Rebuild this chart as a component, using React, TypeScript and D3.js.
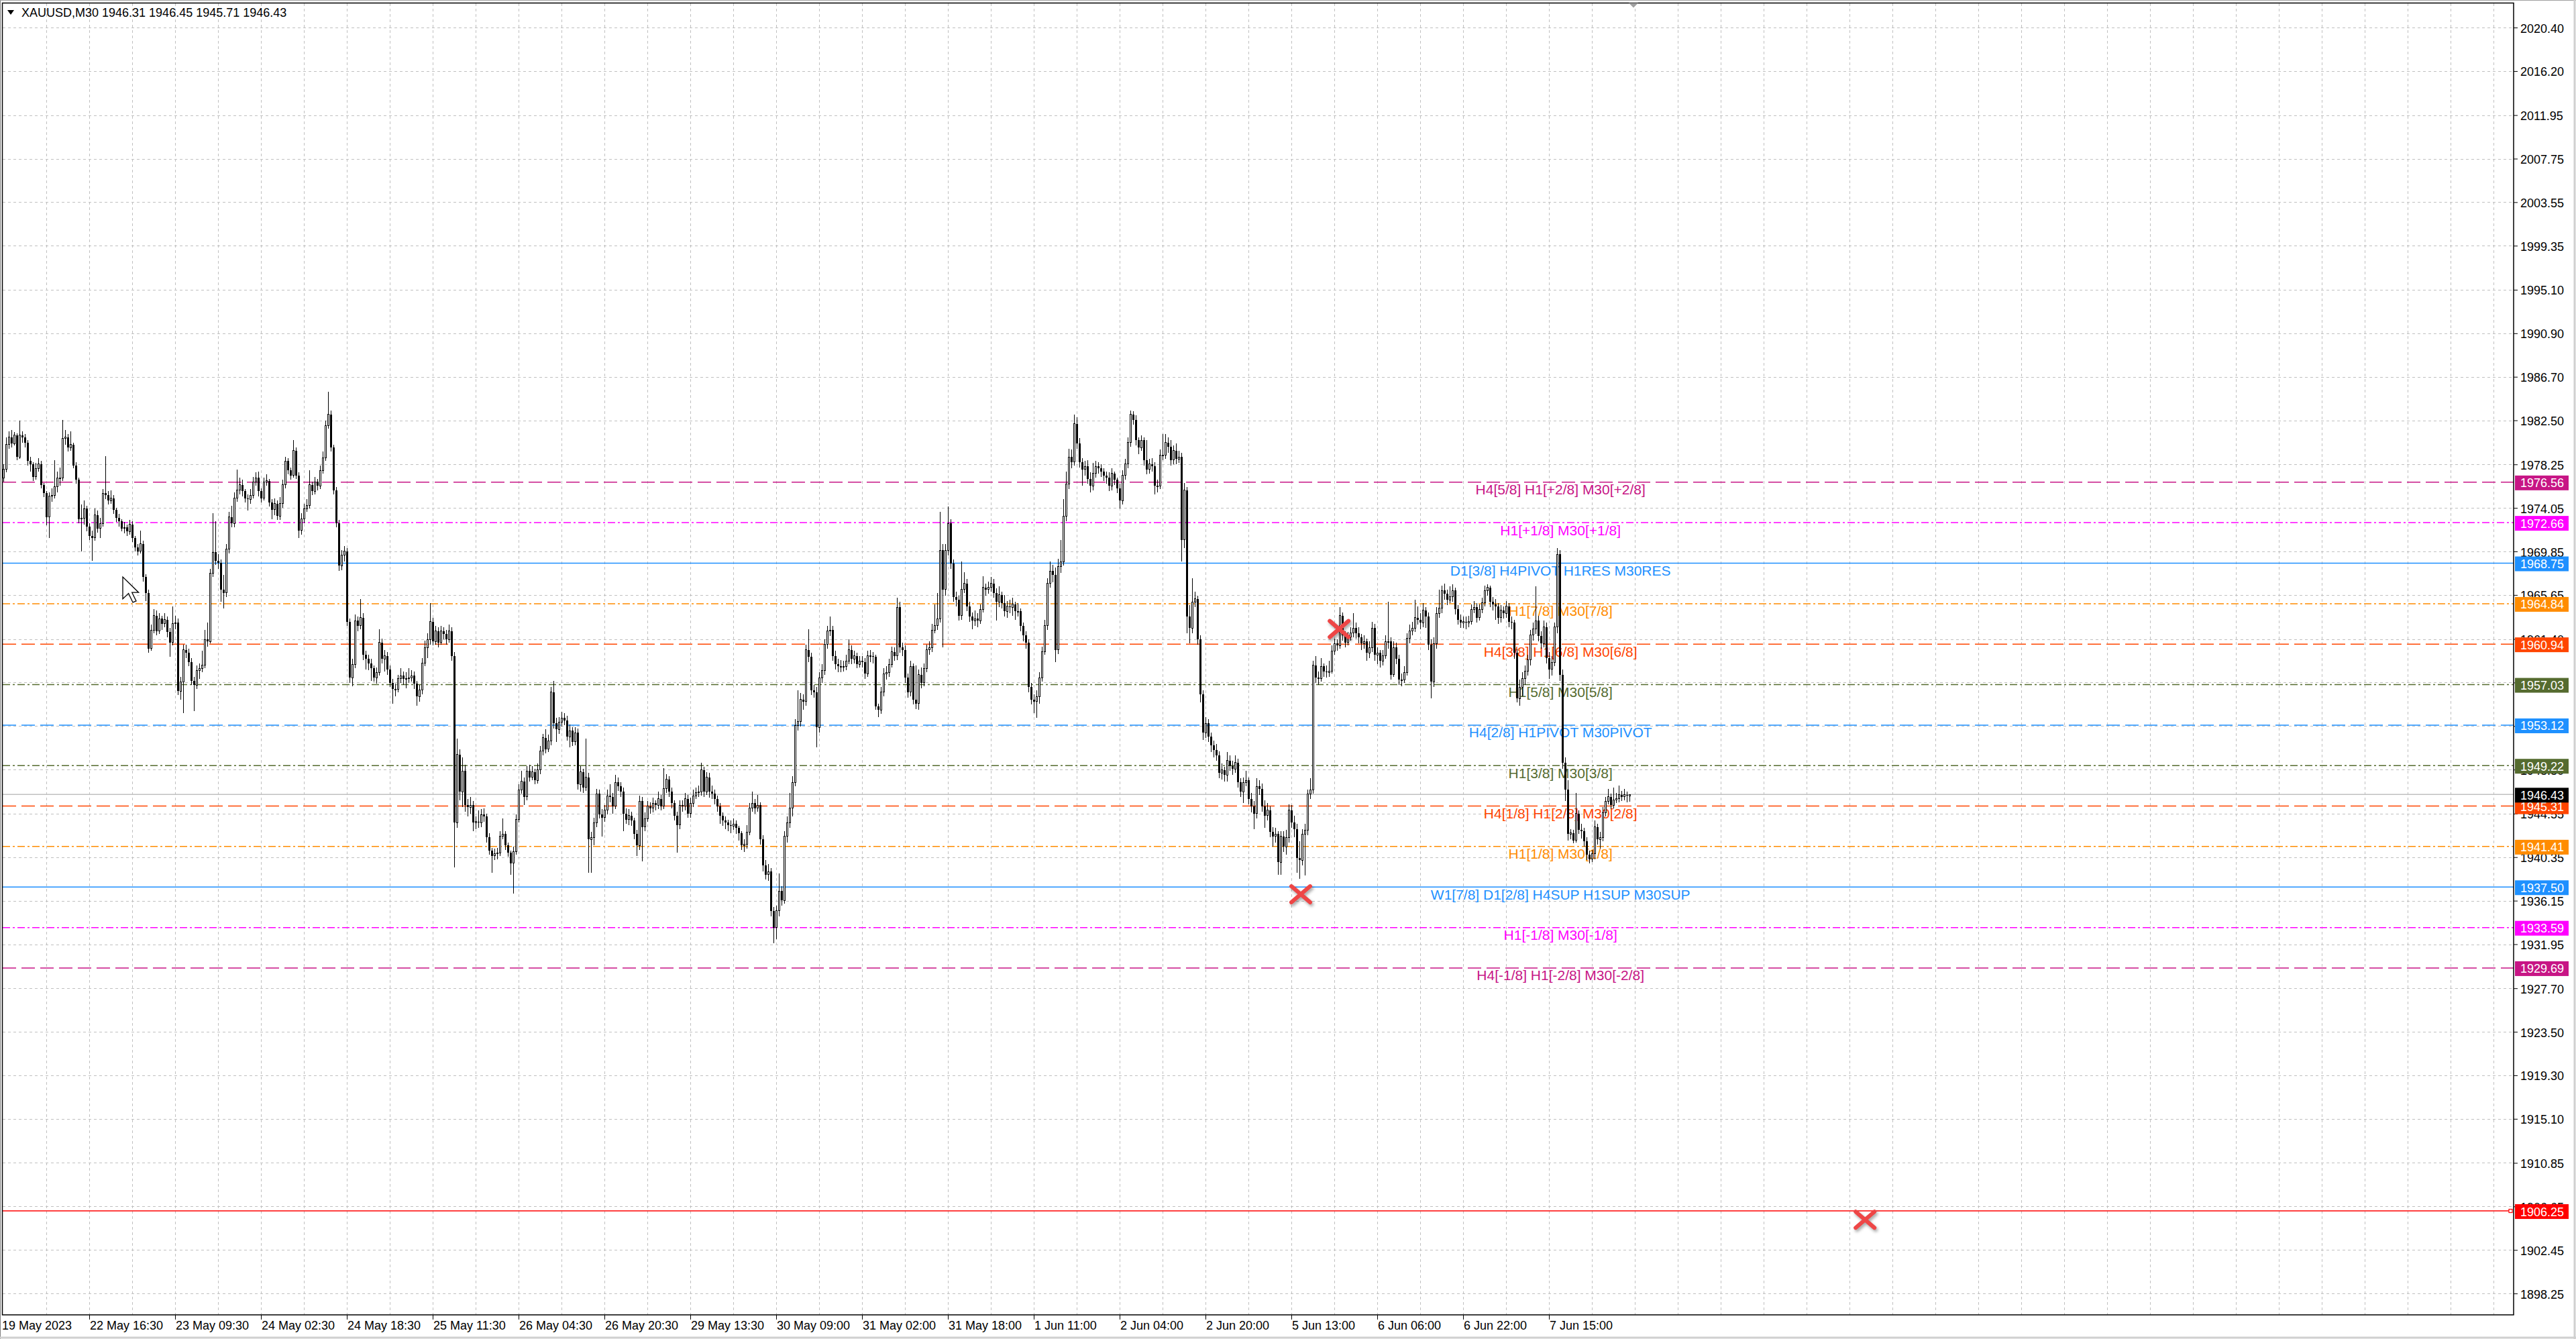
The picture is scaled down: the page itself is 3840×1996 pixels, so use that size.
import * as d3 from "d3";

// XAUUSD M30 bars. Each entry is [high, low, close];
// a bar opens at the previous close.
const FIRST_OPEN = 1977.0;

const bars19May = [
  [1978.3, 1976.6, 1977.8], [1980.9, 1977.5, 1980.2], [1981.5, 1979.8, 1980.9], [1981.6, 1979.9, 1980.3],
  [1981.4, 1980.1, 1981.1], [1981.3, 1978.7, 1979.0], [1982.5, 1978.8, 1981.1], [1981.5, 1980.4, 1980.9],
  [1981.2, 1979.9, 1980.4], [1980.6, 1978.2, 1978.6], [1979.0, 1977.6, 1978.3], [1978.5, 1976.7, 1977.1],
  [1978.4, 1976.8, 1977.9], [1978.9, 1977.6, 1978.3], [1978.6, 1976.0, 1976.3], [1976.5, 1975.1, 1975.5],
  [1975.7, 1972.4, 1973.2], [1975.6, 1971.2, 1975.2], [1976.0, 1974.7, 1975.3], [1978.7, 1975.0, 1976.1],
  [1977.6, 1975.6, 1977.0], [1978.0, 1976.2, 1977.0], [1982.6, 1976.7, 1980.8], [1981.6, 1980.2, 1980.9],
  [1981.2, 1979.5, 1979.9], [1981.5, 1979.6, 1980.2], [1980.4, 1977.9, 1978.2], [1978.5, 1976.4, 1976.8],
  [1977.0, 1972.6, 1973.0], [1974.4, 1969.9, 1973.1], [1974.8, 1972.5, 1974.0], [1974.3, 1971.8, 1972.3],
];
const bars22May = [
  [1972.6, 1971.0, 1971.4], [1971.9, 1969.0, 1971.2], [1974.0, 1970.9, 1973.4], [1973.8, 1971.7, 1972.1],
  [1973.1, 1971.2, 1972.6], [1975.9, 1972.3, 1975.5], [1979.1, 1974.9, 1975.3], [1975.7, 1974.4, 1974.8],
  [1975.8, 1974.5, 1975.0], [1975.3, 1973.5, 1973.9], [1974.1, 1972.7, 1973.1], [1973.5, 1972.3, 1972.8],
  [1973.0, 1971.8, 1972.1], [1972.7, 1971.6, 1972.2], [1972.5, 1971.4, 1971.8], [1972.9, 1971.5, 1972.5],
  [1972.8, 1970.8, 1971.2], [1971.4, 1969.9, 1970.3], [1970.6, 1969.5, 1969.9], [1971.9, 1969.7, 1970.6],
  [1970.9, 1967.0, 1967.4], [1967.7, 1965.1, 1965.9], [1966.2, 1960.1, 1960.5], [1962.8, 1960.3, 1962.3],
  [1964.3, 1962.0, 1963.7], [1964.2, 1961.8, 1962.2], [1963.9, 1961.9, 1963.4], [1963.7, 1962.3, 1962.9],
  [1963.9, 1962.6, 1963.3], [1963.6, 1961.6, 1962.1], [1962.5, 1959.7, 1961.1], [1964.6, 1960.8, 1962.9],
];
const bars23May = [
  [1963.7, 1962.4, 1963.0], [1963.4, 1956.0, 1956.4], [1957.8, 1955.6, 1957.3], [1960.9, 1954.3, 1960.4],
  [1960.9, 1959.6, 1960.1], [1960.5, 1958.8, 1959.2], [1959.6, 1957.0, 1957.4], [1957.8, 1954.5, 1957.0],
  [1958.9, 1956.6, 1958.4], [1959.1, 1957.6, 1958.6], [1960.3, 1958.2, 1958.9], [1962.3, 1958.6, 1961.4],
  [1963.0, 1960.7, 1961.2], [1968.2, 1961.0, 1967.8], [1973.6, 1967.4, 1969.8], [1972.8, 1968.6, 1969.0],
  [1969.6, 1968.2, 1968.8], [1969.1, 1965.0, 1966.2], [1967.6, 1964.4, 1965.9], [1970.6, 1965.5, 1970.1],
  [1973.7, 1969.7, 1973.2], [1974.3, 1972.2, 1972.6], [1975.6, 1972.2, 1975.0], [1977.8, 1974.7, 1975.8],
  [1977.0, 1975.4, 1976.3], [1976.8, 1975.2, 1975.7], [1975.9, 1974.6, 1975.0], [1975.4, 1973.8, 1974.9],
  [1975.9, 1974.5, 1975.3], [1977.1, 1975.0, 1976.6], [1977.5, 1976.2, 1977.0], [1977.6, 1975.2, 1975.7],
];
const bars24MayA = [
  [1976.0, 1974.6, 1975.0], [1977.0, 1974.8, 1976.6], [1977.3, 1976.2, 1976.7], [1976.9, 1974.2, 1974.6],
  [1974.9, 1973.0, 1973.9], [1975.0, 1973.4, 1974.5], [1974.8, 1972.9, 1973.3], [1975.1, 1972.9, 1974.5],
  [1976.8, 1974.1, 1976.3], [1979.0, 1976.0, 1978.6], [1978.9, 1977.3, 1977.7], [1978.0, 1976.8, 1977.2],
  [1980.6, 1977.0, 1979.6], [1979.9, 1976.9, 1977.2], [1977.5, 1971.2, 1971.9], [1973.6, 1971.5, 1973.0],
  [1974.5, 1972.6, 1974.0], [1974.9, 1973.7, 1974.3], [1977.7, 1974.0, 1976.3], [1976.6, 1975.3, 1975.7],
  [1977.1, 1975.4, 1976.6], [1976.9, 1975.8, 1976.2], [1978.2, 1975.9, 1977.7], [1979.5, 1977.4, 1978.9],
  [1982.5, 1978.6, 1982.0], [1985.3, 1981.7, 1983.1], [1983.5, 1979.5, 1979.9], [1980.2, 1975.4, 1975.8],
  [1976.1, 1972.2, 1972.6], [1972.9, 1968.0, 1968.5], [1970.0, 1968.1, 1969.5], [1970.4, 1968.9, 1969.9],
];
const bars24MayB = [
  [1970.2, 1962.7, 1963.1], [1963.4, 1957.2, 1957.7], [1959.5, 1956.9, 1959.0], [1963.8, 1958.6, 1963.2],
  [1963.6, 1962.2, 1962.7], [1965.3, 1962.4, 1963.5], [1963.9, 1959.4, 1959.9], [1960.3, 1958.5, 1959.5],
  [1959.9, 1958.4, 1959.1], [1959.5, 1957.4, 1958.6], [1958.9, 1957.3, 1957.7], [1958.7, 1957.1, 1958.2],
  [1962.4, 1957.9, 1961.1], [1961.5, 1959.1, 1959.5], [1960.4, 1958.3, 1959.8], [1960.2, 1958.0, 1958.5],
  [1958.9, 1956.8, 1957.2], [1957.6, 1955.2, 1956.6], [1957.1, 1955.9, 1956.6], [1958.0, 1956.3, 1957.6],
  [1958.6, 1957.2, 1957.9], [1958.3, 1957.0, 1957.6], [1958.2, 1956.7, 1957.6], [1958.6, 1957.2, 1957.7],
  [1958.4, 1957.3, 1957.9], [1958.3, 1956.6, 1957.1], [1957.4, 1955.0, 1955.9], [1957.0, 1955.4, 1956.5],
  [1959.6, 1956.1, 1959.1], [1961.3, 1958.8, 1960.6], [1962.0, 1959.6, 1961.4], [1964.9, 1960.9, 1963.1],
];
const bars25May = [
  [1963.5, 1960.8, 1961.2], [1962.7, 1960.9, 1962.2], [1962.6, 1960.6, 1961.1], [1962.7, 1960.9, 1962.2],
  [1962.6, 1961.4, 1961.9], [1962.3, 1960.9, 1961.4], [1962.8, 1961.1, 1962.2], [1962.6, 1959.3, 1959.8],
  [1960.2, 1939.4, 1943.7], [1951.8, 1943.2, 1950.3], [1950.8, 1945.9, 1946.7], [1950.0, 1945.2, 1948.7],
  [1949.3, 1944.8, 1945.4], [1946.0, 1944.3, 1945.2], [1946.2, 1944.6, 1945.4], [1945.8, 1942.9, 1943.7],
  [1944.3, 1943.1, 1943.8], [1944.9, 1943.2, 1943.7], [1945.0, 1943.3, 1944.5], [1945.1, 1943.8, 1944.3],
  [1944.6, 1941.8, 1942.3], [1942.7, 1940.6, 1941.0], [1941.3, 1938.9, 1940.5], [1941.2, 1940.1, 1940.7],
  [1941.3, 1940.2, 1940.8], [1942.9, 1940.5, 1942.4], [1944.1, 1942.1, 1942.6], [1942.9, 1941.1, 1941.5],
  [1941.8, 1940.4, 1940.8], [1941.0, 1938.7, 1939.8], [1941.4, 1936.9, 1940.9], [1944.5, 1940.6, 1944.0],
];
const bars26MayA = [
  [1947.4, 1943.7, 1946.9], [1948.7, 1946.5, 1947.7], [1948.1, 1945.4, 1946.2], [1949.2, 1945.9, 1948.7],
  [1949.3, 1947.7, 1948.1], [1949.2, 1947.8, 1948.6], [1948.9, 1947.4, 1947.8], [1949.4, 1947.5, 1948.8],
  [1951.1, 1948.4, 1950.6], [1952.3, 1950.2, 1951.9], [1952.7, 1950.4, 1950.8], [1952.2, 1950.5, 1951.6],
  [1956.8, 1951.2, 1956.3], [1957.4, 1952.8, 1953.3], [1953.8, 1951.5, 1952.7], [1953.9, 1952.3, 1953.4],
  [1954.4, 1953.0, 1953.8], [1954.3, 1953.1, 1953.6], [1954.0, 1951.6, 1952.0], [1953.2, 1951.0, 1952.6],
  [1952.9, 1951.1, 1951.5], [1952.9, 1951.2, 1952.4], [1952.8, 1946.9, 1947.4], [1949.2, 1946.7, 1948.6],
  [1948.9, 1946.6, 1947.1], [1951.8, 1946.8, 1948.1], [1948.5, 1938.9, 1942.1], [1942.8, 1938.9, 1942.3],
  [1944.2, 1941.5, 1943.7], [1947.0, 1943.3, 1946.5], [1946.9, 1944.1, 1944.5], [1945.0, 1942.4, 1944.2],
];
const bars26MayB = [
  [1945.4, 1943.8, 1944.9], [1946.9, 1944.5, 1946.3], [1947.4, 1945.7, 1946.2], [1946.6, 1944.6, 1945.3],
  [1948.3, 1945.0, 1947.6], [1948.1, 1946.8, 1947.2], [1947.6, 1946.2, 1946.7], [1947.1, 1942.9, 1944.6],
  [1945.1, 1943.6, 1944.0], [1945.0, 1943.5, 1944.4], [1944.8, 1943.4, 1943.9], [1944.2, 1942.1, 1942.6],
  [1943.0, 1940.5, 1941.5], [1946.3, 1941.1, 1945.8], [1946.2, 1940.0, 1943.3], [1944.7, 1942.9, 1944.1],
  [1945.8, 1943.8, 1945.3], [1945.7, 1944.6, 1945.1], [1946.1, 1944.7, 1945.6], [1945.9, 1944.9, 1945.4],
  [1946.7, 1945.0, 1946.0], [1946.4, 1944.9, 1945.3], [1949.0, 1945.0, 1947.0], [1948.4, 1946.6, 1947.9],
  [1948.2, 1946.2, 1946.7], [1947.1, 1945.1, 1945.6], [1945.9, 1943.9, 1944.4], [1944.8, 1940.8, 1943.5],
  [1945.9, 1943.1, 1945.4], [1945.9, 1944.8, 1945.3], [1946.6, 1944.9, 1946.0], [1946.4, 1944.2, 1944.6],
];
const bars29May = [
  [1946.1, 1944.2, 1945.6], [1946.9, 1945.2, 1946.3], [1947.1, 1946.0, 1946.6], [1947.3, 1946.2, 1946.7],
  [1949.5, 1946.3, 1948.8], [1949.1, 1946.2, 1946.7], [1948.6, 1946.4, 1948.1], [1948.5, 1946.1, 1946.7],
  [1947.3, 1946.0, 1946.5], [1946.9, 1945.5, 1946.0], [1946.3, 1944.8, 1945.3], [1945.6, 1943.6, 1944.4],
  [1944.7, 1943.4, 1943.9], [1944.3, 1943.1, 1943.7], [1944.0, 1942.9, 1943.5], [1943.9, 1942.7, 1943.4],
  [1944.1, 1943.0, 1943.6], [1943.9, 1942.6, 1943.2], [1943.4, 1942.0, 1942.7], [1942.9, 1941.1, 1941.5],
  [1942.1, 1940.9, 1941.6], [1943.5, 1941.2, 1942.8], [1945.6, 1942.5, 1945.1], [1946.7, 1944.8, 1945.6],
  [1946.0, 1944.6, 1945.1], [1946.4, 1944.8, 1945.4], [1945.7, 1941.6, 1942.1], [1942.5, 1939.0, 1939.6],
  [1940.1, 1938.2, 1938.7], [1939.7, 1938.1, 1939.0], [1939.3, 1934.7, 1935.2], [1935.6, 1932.1, 1933.6],
];
const bars30May = [
  [1935.7, 1932.5, 1935.2], [1938.8, 1934.7, 1937.1], [1937.6, 1935.7, 1936.2], [1942.9, 1935.9, 1942.4],
  [1944.3, 1941.8, 1943.7], [1946.6, 1943.2, 1945.1], [1948.2, 1944.3, 1947.6], [1953.7, 1947.2, 1953.1],
  [1956.5, 1952.6, 1953.5], [1956.2, 1953.0, 1955.6], [1956.1, 1954.6, 1955.4], [1960.9, 1955.0, 1960.4],
  [1962.4, 1959.2, 1959.7], [1960.1, 1956.0, 1956.5], [1957.0, 1955.8, 1956.3], [1956.8, 1951.0, 1952.9],
  [1958.2, 1952.4, 1957.7], [1959.0, 1957.2, 1958.4], [1961.4, 1958.0, 1960.9], [1962.7, 1960.5, 1962.2],
  [1963.6, 1961.7, 1962.3], [1962.7, 1959.3, 1959.8], [1960.3, 1958.5, 1959.0], [1959.5, 1958.2, 1958.8],
  [1959.4, 1958.2, 1958.8], [1959.3, 1958.3, 1958.8], [1959.9, 1958.4, 1959.3], [1961.4, 1959.0, 1960.4],
  [1960.8, 1959.0, 1959.5], [1960.3, 1959.1, 1959.8], [1960.1, 1958.6, 1959.0], [1959.8, 1958.7, 1959.3],
];
const bars31MayA = [
  [1959.8, 1958.7, 1959.2], [1959.6, 1957.6, 1958.1], [1960.3, 1957.8, 1959.8], [1960.4, 1959.2, 1959.8],
  [1960.2, 1959.1, 1959.7], [1959.9, 1954.6, 1954.9], [1955.2, 1953.9, 1954.6], [1956.8, 1954.2, 1956.3],
  [1958.6, 1955.9, 1958.1], [1958.8, 1957.5, 1958.2], [1959.5, 1957.8, 1959.0], [1960.7, 1958.7, 1960.2],
  [1960.6, 1959.3, 1959.8], [1965.4, 1959.4, 1964.5], [1965.0, 1960.1, 1960.6], [1961.1, 1959.8, 1960.4],
  [1960.8, 1957.2, 1957.7], [1958.1, 1955.8, 1956.3], [1959.3, 1955.9, 1958.8], [1959.1, 1955.1, 1955.6],
  [1958.9, 1954.7, 1955.2], [1958.5, 1954.6, 1958.0], [1958.7, 1956.7, 1957.2], [1959.1, 1956.9, 1958.6],
  [1960.9, 1958.2, 1960.4], [1961.2, 1959.9, 1960.6], [1962.9, 1960.2, 1962.3], [1964.8, 1962.0, 1962.7],
  [1965.9, 1962.3, 1963.4], [1973.7, 1963.0, 1970.0], [1970.6, 1960.6, 1966.2], [1970.6, 1965.6, 1970.0],
];
const bars31MayB = [
  [1974.2, 1969.5, 1972.6], [1973.0, 1968.2, 1968.7], [1969.1, 1965.0, 1965.5], [1966.0, 1964.6, 1965.2],
  [1965.6, 1963.2, 1963.7], [1968.9, 1963.3, 1966.2], [1967.9, 1965.9, 1966.8], [1967.2, 1964.1, 1964.6],
  [1965.0, 1963.1, 1963.6], [1964.0, 1962.4, 1963.2], [1964.2, 1962.7, 1963.4], [1963.9, 1962.6, 1963.2],
  [1964.8, 1962.9, 1964.3], [1967.5, 1964.0, 1966.4], [1966.8, 1965.6, 1966.2], [1967.0, 1965.8, 1966.4],
  [1967.4, 1966.0, 1966.8], [1967.2, 1965.4, 1965.9], [1966.3, 1963.2, 1965.0], [1966.5, 1964.5, 1965.7],
  [1966.0, 1964.4, 1964.9], [1965.7, 1963.6, 1964.1], [1965.1, 1963.5, 1964.6], [1965.2, 1963.9, 1964.5],
  [1965.4, 1963.7, 1964.8], [1965.0, 1963.3, 1964.1], [1964.9, 1963.6, 1964.1], [1964.4, 1962.2, 1962.7],
  [1963.0, 1961.2, 1961.8], [1962.2, 1960.5, 1961.1], [1961.4, 1956.3, 1956.8], [1957.2, 1955.1, 1955.6],
];
const bars1Jun = [
  [1956.1, 1954.3, 1955.4], [1956.5, 1953.8, 1955.9], [1958.2, 1955.2, 1957.7], [1960.7, 1957.3, 1960.2],
  [1963.3, 1959.9, 1962.7], [1967.3, 1962.3, 1966.8], [1968.9, 1966.4, 1968.0], [1968.6, 1966.9, 1967.6],
  [1968.3, 1959.2, 1960.4], [1969.2, 1960.0, 1968.4], [1971.0, 1967.8, 1968.9], [1974.9, 1968.5, 1973.3],
  [1977.6, 1972.8, 1976.4], [1979.8, 1975.9, 1979.0], [1979.7, 1977.9, 1978.5], [1983.1, 1978.2, 1982.2],
  [1982.8, 1979.8, 1980.3], [1980.8, 1978.0, 1978.5], [1978.9, 1976.2, 1977.8], [1978.6, 1977.2, 1978.1],
  [1978.7, 1976.4, 1976.9], [1977.5, 1975.6, 1976.2], [1978.4, 1975.8, 1977.4], [1978.6, 1977.0, 1978.1],
  [1978.5, 1977.4, 1977.9], [1978.3, 1977.1, 1977.6], [1977.9, 1976.7, 1977.2], [1977.6, 1976.4, 1977.0],
  [1977.5, 1975.7, 1976.2], [1977.9, 1975.8, 1977.4], [1977.6, 1976.3, 1976.8], [1977.0, 1975.5, 1976.0],
];
const bars2JunA = [
  [1976.4, 1974.0, 1974.8], [1977.7, 1974.4, 1977.2], [1978.8, 1976.8, 1978.3], [1980.9, 1977.9, 1980.4],
  [1983.5, 1980.0, 1983.1], [1983.4, 1982.1, 1982.6], [1983.0, 1980.1, 1980.6], [1980.9, 1979.3, 1979.9],
  [1981.1, 1979.6, 1980.6], [1980.9, 1978.2, 1978.7], [1980.6, 1977.3, 1977.8], [1978.8, 1977.4, 1978.3],
  [1978.9, 1977.6, 1978.1], [1978.5, 1975.4, 1976.2], [1976.8, 1975.6, 1976.2], [1979.7, 1975.9, 1979.2],
  [1981.2, 1978.7, 1979.2], [1981.2, 1978.8, 1980.4], [1980.9, 1979.4, 1980.0], [1980.6, 1978.2, 1978.7],
  [1980.1, 1978.3, 1979.6], [1980.3, 1978.3, 1978.8], [1979.6, 1978.4, 1979.0], [1979.4, 1968.9, 1971.0],
  [1976.5, 1970.2, 1975.8], [1976.1, 1962.0, 1963.6], [1964.7, 1961.0, 1962.5], [1967.3, 1962.0, 1965.0],
  [1966.0, 1964.5, 1965.3], [1965.6, 1960.9, 1961.4], [1961.8, 1955.3, 1956.1], [1956.5, 1951.7, 1952.4],
];
const bars2JunB = [
  [1953.9, 1951.9, 1953.3], [1953.7, 1951.5, 1952.0], [1952.4, 1950.5, 1951.2], [1951.6, 1950.0, 1950.7],
  [1951.3, 1949.7, 1950.2], [1950.6, 1948.0, 1948.5], [1949.4, 1947.9, 1948.8], [1949.1, 1947.7, 1948.3],
  [1950.5, 1947.7, 1949.7], [1950.2, 1948.7, 1949.2], [1949.7, 1948.3, 1948.9], [1950.2, 1948.5, 1949.5],
  [1949.9, 1947.1, 1947.6], [1948.0, 1946.2, 1946.7], [1948.1, 1945.6, 1947.6], [1948.7, 1947.2, 1947.8],
  [1948.1, 1945.5, 1946.0], [1946.6, 1944.7, 1945.3], [1945.8, 1943.1, 1944.6], [1948.0, 1944.1, 1947.2],
  [1947.8, 1946.4, 1947.0], [1947.5, 1944.8, 1945.3], [1945.9, 1943.2, 1944.4], [1945.6, 1943.9, 1944.9],
  [1945.3, 1942.3, 1942.8], [1943.3, 1941.4, 1942.4], [1943.2, 1941.8, 1942.6], [1942.9, 1938.7, 1939.9],
  [1942.9, 1938.7, 1942.4], [1942.9, 1940.9, 1941.4], [1943.0, 1940.6, 1942.3], [1945.5, 1941.8, 1944.9],
];
const bars5Jun = [
  [1945.4, 1943.2, 1943.7], [1944.4, 1942.3, 1943.1], [1943.6, 1938.9, 1940.3], [1941.9, 1938.3, 1940.1],
  [1943.1, 1939.6, 1942.6], [1943.6, 1938.6, 1943.0], [1946.9, 1942.5, 1946.5], [1948.0, 1946.0, 1946.9],
  [1959.3, 1946.5, 1958.9], [1959.8, 1957.2, 1957.7], [1958.3, 1957.0, 1957.6], [1959.6, 1957.3, 1958.8],
  [1959.1, 1957.8, 1958.3], [1958.9, 1957.7, 1958.2], [1959.3, 1957.8, 1958.3], [1960.8, 1958.1, 1960.3],
  [1961.5, 1959.9, 1961.0], [1961.4, 1960.3, 1960.8], [1964.5, 1960.5, 1963.7], [1964.0, 1961.3, 1961.8],
  [1962.2, 1960.6, 1961.1], [1962.1, 1960.8, 1961.6], [1962.6, 1961.3, 1962.0], [1963.9, 1961.6, 1962.5],
  [1963.0, 1961.5, 1962.0], [1962.6, 1961.0, 1961.6], [1961.9, 1960.4, 1961.0], [1961.8, 1960.5, 1961.2],
  [1961.5, 1959.3, 1960.1], [1961.2, 1959.6, 1960.6], [1963.1, 1960.2, 1962.5], [1962.9, 1959.3, 1959.9],
];
const bars6JunA = [
  [1960.6, 1959.0, 1960.1], [1960.4, 1958.7, 1959.3], [1960.4, 1958.9, 1959.8], [1961.8, 1959.5, 1961.2],
  [1965.0, 1960.5, 1961.2], [1961.6, 1957.5, 1958.0], [1961.2, 1957.8, 1960.6], [1961.1, 1959.0, 1959.5],
  [1959.9, 1957.0, 1957.5], [1958.1, 1956.9, 1957.5], [1958.8, 1957.2, 1958.2], [1962.0, 1957.9, 1961.5],
  [1962.8, 1961.0, 1962.2], [1963.1, 1961.8, 1962.5], [1965.2, 1962.1, 1963.5], [1964.6, 1962.8, 1963.3],
  [1963.9, 1962.4, 1963.0], [1964.9, 1962.6, 1964.2], [1964.5, 1962.5, 1963.6], [1964.0, 1960.4, 1960.9],
  [1961.4, 1955.7, 1957.3], [1961.6, 1956.8, 1961.0], [1964.5, 1960.5, 1963.9], [1966.2, 1963.5, 1964.4],
  [1966.6, 1963.9, 1966.1], [1966.8, 1965.2, 1965.8], [1966.2, 1964.7, 1965.2], [1966.5, 1964.9, 1965.5],
  [1966.7, 1965.0, 1966.1], [1966.4, 1963.8, 1964.3], [1964.7, 1962.8, 1963.3], [1963.8, 1962.5, 1963.0],
];
const bars6JunB = [
  [1963.6, 1962.5, 1963.1], [1963.6, 1962.4, 1963.0], [1963.7, 1962.6, 1963.1], [1964.8, 1962.8, 1964.3],
  [1965.1, 1963.9, 1964.5], [1964.9, 1963.0, 1963.5], [1964.8, 1963.2, 1964.3], [1965.4, 1963.9, 1964.9],
  [1966.6, 1964.6, 1966.1], [1966.7, 1965.6, 1966.4], [1966.6, 1964.5, 1965.0], [1965.5, 1964.2, 1964.8],
  [1965.3, 1963.3, 1964.6], [1964.9, 1962.9, 1963.5], [1964.7, 1963.0, 1964.2], [1964.6, 1963.4, 1963.9],
  [1965.1, 1963.5, 1964.6], [1964.9, 1962.6, 1963.1], [1963.6, 1962.4, 1963.0], [1963.3, 1959.5, 1960.1],
  [1960.5, 1955.3, 1955.7], [1957.5, 1955.0, 1956.8], [1958.2, 1955.9, 1957.6], [1958.9, 1957.0, 1958.3],
  [1959.9, 1957.9, 1959.4], [1962.3, 1958.9, 1961.8], [1963.0, 1961.3, 1962.4], [1966.5, 1961.9, 1963.2],
  [1963.7, 1961.2, 1961.7], [1962.2, 1960.5, 1961.0], [1963.2, 1960.6, 1962.6], [1963.0, 1959.1, 1959.6],
];
const bars7Jun = [
  [1960.2, 1957.6, 1958.5], [1959.8, 1957.9, 1959.2], [1963.0, 1958.8, 1962.6], [1970.2, 1962.0, 1969.6],
  [1970.0, 1957.4, 1958.0], [1958.5, 1948.9, 1949.5], [1950.0, 1945.8, 1946.9], [1947.8, 1942.0, 1942.6],
  [1943.1, 1942.1, 1942.7], [1943.0, 1941.7, 1942.0], [1946.6, 1941.8, 1944.6], [1944.9, 1942.6, 1943.0],
  [1943.6, 1942.2, 1942.9], [1943.2, 1941.4, 1941.9], [1942.3, 1940.1, 1940.6], [1941.0, 1939.8, 1940.2],
  [1941.1, 1939.9, 1940.7], [1943.9, 1940.2, 1943.3], [1943.6, 1941.6, 1942.1], [1942.8, 1941.2, 1942.3],
  [1945.2, 1941.9, 1944.7], [1946.2, 1944.3, 1945.8], [1947.0, 1945.5, 1946.2], [1946.5, 1945.0, 1945.4],
  [1947.1, 1945.1, 1945.9], [1946.6, 1945.6, 1946.0], [1947.3, 1945.7, 1946.4], [1946.8, 1945.8, 1946.2],
  [1947.0, 1945.9, 1946.4], [1946.7, 1945.7, 1946.31], [1946.45, 1945.71, 1946.43],
];

// one label every 32 bars
const timeLabels = [
  "19 May 2023", "22 May 16:30", "23 May 09:30", "24 May 02:30", "24 May 18:30", "25 May 11:30",
  "26 May 04:30", "26 May 20:30", "29 May 13:30", "30 May 09:00", "31 May 02:00", "31 May 18:00",
  "1 Jun 11:00", "2 Jun 04:00", "2 Jun 20:00", "5 Jun 13:00", "6 Jun 06:00", "6 Jun 22:00", "7 Jun 15:00",
];

const priceTicks = [
  "2020.40", "2016.20", "2011.95", "2007.75", "2003.55", "1999.35", "1995.10", "1990.90", "1986.70",
  "1982.50", "1978.25", "1974.05", "1969.85", "1965.65", "1961.40", "1957.20", "1953.00", "1948.80",
  "1944.55", "1940.35", "1936.15", "1931.95", "1927.70", "1923.50", "1919.30", "1915.10", "1910.85",
  "1906.65", "1902.45", "1898.25",
];

// Murrey math levels
const levelPrices = [1976.56, 1972.66, 1968.75, 1964.84, 1960.94, 1957.03, 1953.12, 1949.22, 1945.31, 1941.41, 1937.5, 1933.59, 1929.69];
const levelNames = [
  "H4[5/8] H1[+2/8] M30[+2/8]",
  "H1[+1/8] M30[+1/8]",
  "D1[3/8] H4PIVOT H1RES M30RES",
  "H1[7/8] M30[7/8]",
  "H4[3/8] H1[6/8] M30[6/8]",
  "H1[5/8] M30[5/8]",
  "H4[2/8] H1PIVOT M30PIVOT",
  "H1[3/8] M30[3/8]",
  "H4[1/8] H1[2/8] M30[2/8]",
  "H1[1/8] M30[1/8]",
  "W1[7/8] D1[2/8] H4SUP H1SUP M30SUP",
  "H1[-1/8] M30[-1/8]",
  "H4[-1/8] H1[-2/8] M30[-2/8]",
];
const levelKinds = ["ext2", "ext1", "frame", "minor", "major", "weak", "pivot", "weak", "major", "minor", "frame", "ext1", "ext2"];

const targetPrice = 1906.25;
// [bar, price]
const crossMarks = [
  [483.5, 1936.8],
  [497.8, 1962.4],
  [693.8, 1905.4],
];

const KIND_STYLE: Record<string, { color: string; dash?: string }> = {
  ext2: { color: "#C71585", dash: "20,8" },
  ext1: { color: "#FF00FF", dash: "11,4,3,4" },
  frame: { color: "#1E90FF" },
  minor: { color: "#FF8C00", dash: "11,4,3,4" },
  major: { color: "#FF4500", dash: "20,8" },
  weak: { color: "#556B2F", dash: "11,4,3,4" },
  pivot: { color: "#1E90FF", dash: "20,8" },
};

const W = 3840;
const H = 1996;
const PLOT_LEFT = 4;
const PLOT_TOP = 4.5;
const PLOT_RIGHT = 3747;
const PLOT_BOTTOM = 1960;
const AXIS_TEXT_X = 3757;
const LABEL_BAR = 580.3;
const FONT = "'Liberation Sans', Arial, sans-serif";
const GRID = "#c0c0c0";

function buildCandles() {
  const chunks = [
    bars19May, bars22May, bars23May, bars24MayA, bars24MayB, bars25May, bars26MayA, bars26MayB, bars29May,
    bars30May, bars31MayA, bars31MayB, bars1Jun, bars2JunA, bars2JunB, bars5Jun, bars6JunA, bars6JunB, bars7Jun,
  ];
  let prev = FIRST_OPEN;
  return chunks.flat().map(([h, l, c], i) => {
    const bar = { i, o: prev, h, l, c };
    prev = c;
    return bar;
  });
}

export default function App() {
  const candles = buildCandles();
  const last = candles[candles.length - 1];

  const x = d3.scaleLinear().domain([0, 606]).range([5, 2429]);
  const y = d3.scaleLinear().domain([1896.22, 2022.8]).range([PLOT_BOTTOM, PLOT_TOP]);

  const gridBars = d3.range(16, 16 * 59, 16);
  const title = `XAUUSD,M30  ${[last.o, last.h, last.l, last.c].map((v) => v.toFixed(2)).join(" ")}`;

  const tags = [
    ...levelPrices.map((p, i) => ({ price: p, color: KIND_STYLE[levelKinds[i]].color })),
    { price: last.c, color: "#000000" },
    { price: targetPrice, color: "#FF0000" },
  ];

  const cursor = d3.line()([
    [0, 0], [0, 16], [4, 12], [7, 18.5], [9.3, 17.5], [6.4, 11.3], [11, 11.3],
  ].map(([a, b]) => [a * 2.15, b * 2.05]) as [number, number][]) + "Z";

  return (
    <div style={{ position: "absolute", left: 0, top: 0, width: W, height: H, background: "#fff" }}>
      <svg width={W} height={H} style={{ display: "block" }} fontFamily={FONT}>
        <defs>
          <filter id="xshadow" x="-50%" y="-50%" width="200%" height="200%">
            <feGaussianBlur stdDeviation="2" />
          </filter>
          <clipPath id="plot">
            <rect x={PLOT_LEFT} y={PLOT_TOP} width={PLOT_RIGHT - PLOT_LEFT} height={PLOT_BOTTOM - PLOT_TOP} />
          </clipPath>
        </defs>
        <rect width={W} height={H} fill="#fff" />

        {/* grid */}
        <g stroke={GRID} strokeWidth={1} strokeDasharray="4,4" shapeRendering="crispEdges">
          {priceTicks.map((t) => (
            <line key={t} x1={PLOT_LEFT} x2={PLOT_RIGHT} y1={y(+t)} y2={y(+t)} />
          ))}
          {gridBars.map((b) => (
            <line key={b} x1={x(b)} x2={x(b)} y1={PLOT_TOP} y2={PLOT_BOTTOM} />
          ))}
        </g>

        <g clipPath="url(#plot)">
          {/* levels */}
          {levelPrices.map((p, i) => {
            const s = KIND_STYLE[levelKinds[i]];
            return (
              <line key={p} x1={PLOT_LEFT} x2={PLOT_RIGHT} y1={y(p)} y2={y(p)} stroke={s.color}
                strokeWidth={1.5} strokeDasharray={s.dash} />
            );
          })}
          <line x1={PLOT_LEFT} x2={PLOT_RIGHT} y1={y(last.c)} y2={y(last.c)} stroke="#c0c0c0" strokeWidth={1.5} />
          <line x1={PLOT_LEFT} x2={PLOT_RIGHT - 4} y1={y(targetPrice)} y2={y(targetPrice)} stroke="#FF0000" strokeWidth={1.5} />
          <rect x={PLOT_RIGHT - 7} y={y(targetPrice) - 2.5} width={5} height={5} fill="#fff" stroke="#FF0000" strokeWidth={1.2} />

          {levelPrices.map((p, i) => (
            <text key={p} x={x(LABEL_BAR)} y={y(p) + 18.5} textAnchor="middle" fontSize={21}
              fill={KIND_STYLE[levelKinds[i]].color}>
              {levelNames[i]}
            </text>
          ))}

          {/* candles */}
          <g shapeRendering="crispEdges">
            {candles.map((d) => {
              const cx = Math.round(x(d.i));
              const top = y(Math.max(d.o, d.c));
              const bot = y(Math.min(d.o, d.c));
              const bull = d.c >= d.o;
              return (
                <g key={d.i}>
                  <line x1={cx + 0.5} x2={cx + 0.5} y1={y(d.h)} y2={y(d.l)} stroke="#000" strokeWidth={1.2} />
                  {bull ? (
                    <rect x={cx - 0.5} y={top} width={2} height={Math.max(bot - top, 1)} fill="#fff" stroke="#000" strokeWidth={1} />
                  ) : (
                    <rect x={cx - 1} y={top} width={3} height={Math.max(bot - top, 1)} fill="#000" />
                  )}
                </g>
              );
            })}
          </g>

          {/* X marks */}
          {crossMarks.map(([b, p]) => (
            <g key={b} transform={`translate(${x(b)},${y(p)})`}>
              <path d="M-14,-12L14,12M-14,12L14,-12" transform="translate(2,3)" stroke="#000" strokeOpacity={0.35}
                strokeWidth={6} strokeLinecap="round" filter="url(#xshadow)" />
              <path d="M-14,-12L14,12M-14,12L14,-12" stroke="#EE4646" strokeWidth={6} strokeLinecap="round" />
            </g>
          ))}

          <path d={cursor} transform="translate(183,860)" fill="#fff" stroke="#000" strokeWidth={1.3} strokeLinejoin="miter" />
        </g>

        {/* chart frame and window edges */}
        <rect x={PLOT_LEFT - 0.5} y={PLOT_TOP} width={PLOT_RIGHT - PLOT_LEFT + 0.5} height={PLOT_BOTTOM - PLOT_TOP}
          fill="none" stroke="#000" strokeWidth={1.5} />
        <line x1={0.5} x2={0.5} y1={0} y2={H} stroke="#808080" />
        <line x1={0} x2={W} y1={0.5} y2={0.5} stroke="#a0a0a0" />
        <line x1={W - 2} x2={W - 2} y1={0} y2={H} stroke="#d0d0d0" strokeWidth={3} />
        <line x1={0} x2={W} y1={H - 2} y2={H - 2} stroke="#d0d0d0" strokeWidth={3} />
        <polygon points={`${x(607.5) - 7},${PLOT_TOP} ${x(607.5) + 7},${PLOT_TOP} ${x(607.5)},${PLOT_TOP + 7}`} fill="#a0a0a0" />

        {/* title */}
        <polygon points="11,15 21,15 16,22" fill="#000" />
        <text x={32} y={19} dominantBaseline="central" fontSize={18} fill="#000">{title}</text>

        {/* price axis */}
        <g fontSize={18}>
          {priceTicks.map((t) => (
            <g key={t}>
              <line x1={PLOT_RIGHT} x2={PLOT_RIGHT + 6} y1={y(+t)} y2={y(+t)} stroke="#000" />
              <text x={AXIS_TEXT_X} y={y(+t) + 1} dominantBaseline="central" fill="#000">{t}</text>
            </g>
          ))}
          {tags.map((t) => (
            <g key={t.price}>
              <rect x={3749} y={y(t.price) - 10} width={80} height={22} fill={t.color} />
              <text x={AXIS_TEXT_X} y={y(t.price) + 1.5} dominantBaseline="central" fill="#fff">
                {t.price.toFixed(2)}
              </text>
            </g>
          ))}
        </g>

        {/* time axis */}
        <g fontSize={18}>
          {timeLabels.map((t, k) => (
            <g key={t}>
              {k > 0 && <line x1={x(32 * k) + 0.5} x2={x(32 * k) + 0.5} y1={PLOT_BOTTOM} y2={PLOT_BOTTOM + 7} stroke="#000" />}
              <text x={k === 0 ? 3 : x(32 * k) + 1} y={1976} dominantBaseline="central" fill="#000">{t}</text>
            </g>
          ))}
        </g>
      </svg>
    </div>
  );
}
